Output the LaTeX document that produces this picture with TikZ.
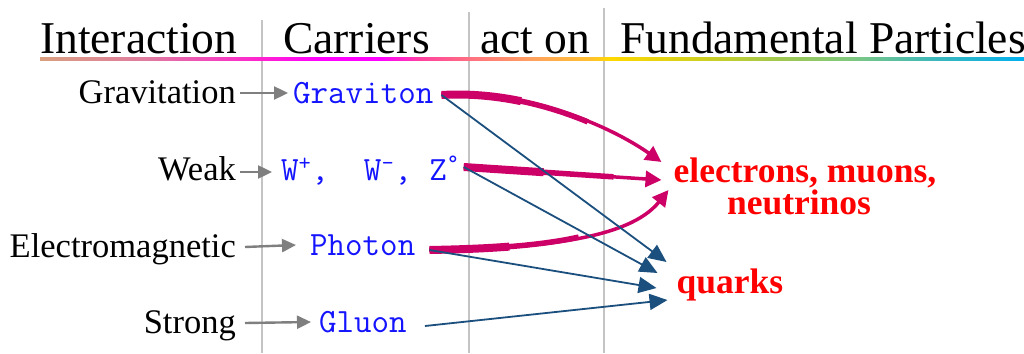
\documentclass[tikz,border=0pt]{standalone}
\usepackage{fontspec}
\setmainfont{Liberation Serif}
\usetikzlibrary{arrows.meta}
\definecolor{grayln}{HTML}{C4C4C4}
\definecolor{grayarr}{HTML}{7F7F7F}
\definecolor{carrierblue}{HTML}{1414FF}
\definecolor{partred}{HTML}{FF0000}
\definecolor{mag}{HTML}{CC0066}
\definecolor{darkblue}{HTML}{1B4F7E}
\definecolor{r0}{HTML}{D9A080}
\definecolor{r1}{HTML}{E07AA0}
\definecolor{r2}{HTML}{FF20D0}
\definecolor{r3}{HTML}{FF00FF}
\definecolor{r4}{HTML}{FF40A0}
\definecolor{r5}{HTML}{FF7080}
\definecolor{r6}{HTML}{FFA060}
\definecolor{r7}{HTML}{FFC030}
\definecolor{r8}{HTML}{FFD800}
\definecolor{r9}{HTML}{D0D020}
\definecolor{r10}{HTML}{A0C850}
\definecolor{r11}{HTML}{80C880}
\definecolor{r12}{HTML}{40B8B8}
\definecolor{r13}{HTML}{00B0F0}
\tikzset{
  hdr/.style={anchor=base west, inner sep=0pt, font=\fontsize{45.5}{50}\selectfont},
  lbl/.style={anchor=base east, inner sep=0pt, font=\fontsize{34.5}{40}\selectfont},
  car/.style={anchor=base west, inner sep=0pt, text=carrierblue, font=\ttfamily\fontsize{34}{38}\selectfont},
  part/.style={anchor=base, inner sep=0pt, text=partred, font=\bfseries\fontsize{35.5}{40}\selectfont},
  colline/.style={draw=grayln, line width=1.6pt},
  grayarrow/.style={draw=grayarr, line width=2.4pt, -{Triangle[length=14pt,width=13pt]}},
  quarkarrow/.style={draw=darkblue, line width=1.8pt, -{Triangle[length=18pt,width=16pt]}},
  leptarrow/.style={draw=mag, line width=3.5pt, -{Triangle[length=16pt,width=16pt]}},
  leptthickA/.style={draw=mag, line width=8pt, dash pattern=on 80pt off 2000pt},
  leptthickB/.style={draw=mag, line width=5.5pt, dash pattern=on 150pt off 2000pt}
}
\begin{document}
\begin{tikzpicture}[x=1pt,y=-1pt]
\useasboundingbox[fill=white] (0,0) rectangle (1024,353);
% column separators
\draw[colline] (262,20) -- (262,353);
\draw[colline] (469,12) -- (469,353);
\draw[colline] (604,8) -- (604,353);
% rainbow underline
\def\ya{57.5}\def\yb{60.5}
\shade[left color=r0, right color=r1] (40,\ya) rectangle (150,\yb);
\shade[left color=r1, right color=r2] (150,\ya) rectangle (262,\yb);
\shade[left color=r2, right color=r3] (262,\ya) rectangle (320,\yb);
\shade[left color=r3, right color=r3] (320,\ya) rectangle (380,\yb);
\shade[left color=r3, right color=r4] (380,\ya) rectangle (420,\yb);
\shade[left color=r4, right color=r5] (420,\ya) rectangle (470,\yb);
\shade[left color=r5, right color=r6] (470,\ya) rectangle (530,\yb);
\shade[left color=r6, right color=r7] (530,\ya) rectangle (590,\yb);
\shade[left color=r7, right color=r8] (590,\ya) rectangle (610,\yb);
\shade[left color=r8, right color=r9] (610,\ya) rectangle (700,\yb);
\shade[left color=r9, right color=r10] (700,\ya) rectangle (780,\yb);
\shade[left color=r10, right color=r11] (780,\ya) rectangle (850,\yb);
\shade[left color=r11, right color=r12] (850,\ya) rectangle (930,\yb);
\shade[left color=r12, right color=r13] (930,\ya) rectangle (1024,\yb);
% headers
\node[hdr] (hInt) at (40,53) {Interaction};
\node[hdr] (hCar) at (283,53) {Carriers};
\node[hdr] (hAct) at (480,53) {act on};
\node[hdr] (hFun) at (620,53) {Fundamental Particles};
% interactions
\node[lbl] (grav) at (236,103) {Gravitation};
\node[lbl] (weak) at (236,180) {Weak};
\node[lbl] (em) at (236,257) {Electromagnetic};
\node[lbl] (strong) at (236,333) {Strong};
% carriers
\node[car] (graviton) at (293,103) {Graviton};
\node[car] (wz) at (281,180) {W\textsuperscript{+},\ \ W\textsuperscript{-}, Z\textsuperscript{°}};
\node[car] (photon) at (310,255) {Photon};
\node[car] (gluon) at (319,332) {Gluon};
% particles
\node[part] (lept) at (805,182) {electrons, muons,};
\node[part] (neut) at (799,214) {neutrinos};
\node[part] (quarks) at (730,293) {quarks};
% interaction -> carrier
\draw[grayarrow] ([xshift=4pt,yshift=10pt]grav.base east) -- ([xshift=-5pt,yshift=10pt]graviton.base west);
\draw[grayarrow] ([xshift=4pt,yshift=8pt]weak.base east) -- ([xshift=-9pt,yshift=8pt]wz.base west);
\draw[grayarrow] ([xshift=9pt,yshift=10pt]em.base east) -- ([xshift=-14pt,yshift=10pt]photon.base west);
\draw[grayarrow] ([xshift=9pt,yshift=10pt]strong.base east) -- ([xshift=-8pt,yshift=10pt]gluon.base west);
% carrier -> leptons (magenta)
\foreach \sty in {leptthickA,leptthickB,leptarrow}{
  \draw[\sty] ([xshift=8pt,yshift=8pt]graviton.base east) .. controls +(85,-5) and +(-53,-37) .. ([xshift=-12pt,yshift=20pt]lept.base west);
  \draw[\sty] ([xshift=4pt,yshift=13pt]wz.base east) -- ([xshift=-12pt,yshift=2pt]lept.base west);
  \draw[\sty] ([xshift=14pt,yshift=5pt]photon.base east) .. controls +(108,-2) and +(-40,50) .. ([xshift=-5pt,yshift=-8pt]lept.base west);
}
% carrier -> quarks (blue)
\draw[quarkarrow] ([xshift=8pt,yshift=8pt]graviton.base east) -- ([xshift=-10pt,yshift=31pt]quarks.base west);
\draw[quarkarrow] ([xshift=4pt,yshift=13pt]wz.base east) -- ([xshift=-19pt,yshift=20pt]quarks.base west);
\draw[quarkarrow] ([xshift=14pt,yshift=5pt]photon.base east) -- ([xshift=-20pt,yshift=5pt]quarks.base west);
\draw[quarkarrow] ([xshift=18pt,yshift=6pt]gluon.base east) -- ([xshift=-9pt,yshift=-7pt]quarks.base west);
\end{tikzpicture}
\end{document}
